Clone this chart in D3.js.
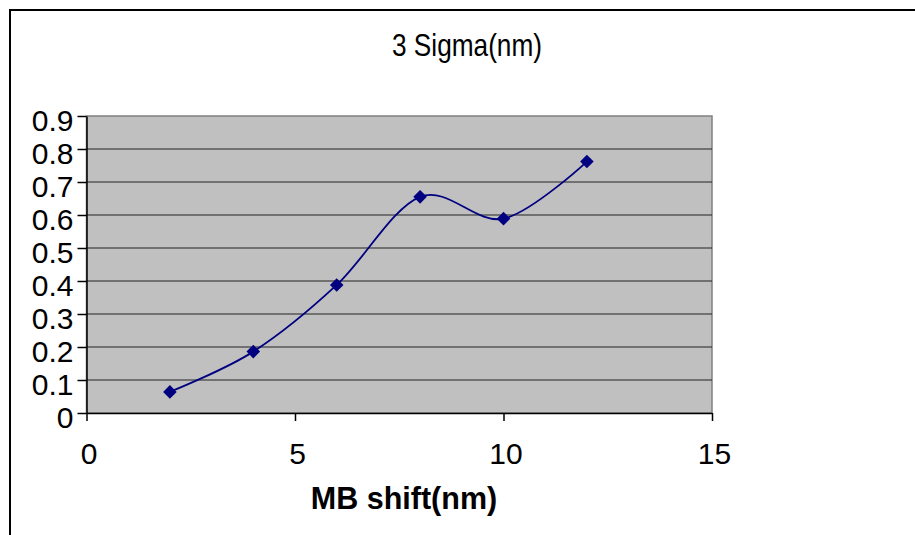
<!DOCTYPE html>
<html>
<head>
<meta charset="utf-8">
<script src="https://cdn.jsdelivr.net/npm/d3@7"></script>
<style>
  body { margin: 0; background: #fff; }
  svg { display: block; font-family: "Liberation Sans", Arial, sans-serif; }
</style>
</head>
<body>
<div id="vis"></div>
<script>
const FRAME_WIDTH = 915;
const FRAME_HEIGHT = 535;
const PLOT = {left: 86.5, right: 712, top: 116, bottom: 413};

// data
const mbShift = [2, 4, 6, 8, 10, 12];
const sigma3 = [0.064, 0.186, 0.388, 0.655, 0.589, 0.762];
const xTicks = [0, 5, 10, 15];
const yTicks = [0, 0.1, 0.2, 0.3, 0.4, 0.5, 0.6, 0.7, 0.8, 0.9];
const chartTitle = "3 Sigma(nm)";
const xTitle = "MB shift(nm)";

const data = mbShift.map((x, i) => ({x: x, y: sigma3[i]}));

const svg = d3.select("#vis")
  .append("svg")
    .attr("width", FRAME_WIDTH)
    .attr("height", FRAME_HEIGHT);

// outer chart border
svg.append("rect")
  .attr("x", 10).attr("y", 10)
  .attr("width", FRAME_WIDTH + 20)
  .attr("height", FRAME_HEIGHT + 20)
  .attr("fill", "#fff")
  .attr("stroke", "#000")
  .attr("stroke-width", 2);

const X_SCALE = d3.scaleLinear()
  .domain([0, 15])
  .range([PLOT.left, PLOT.right]);

const Y_SCALE = d3.scaleLinear()
  .domain([0, 0.9])
  .range([PLOT.bottom, PLOT.top]);

// plot area
svg.append("rect")
  .attr("x", PLOT.left).attr("y", PLOT.top)
  .attr("width", PLOT.right - PLOT.left)
  .attr("height", PLOT.bottom - PLOT.top)
  .attr("fill", "#c0c0c0")
  .attr("stroke", "#808080")
  .attr("stroke-width", 1.5);

// horizontal gridlines
svg.append("g")
  .selectAll("line")
  .data(yTicks.filter(t => t > 0 && t < 0.9))
  .enter()
  .append("line")
    .attr("x1", PLOT.left).attr("x2", PLOT.right)
    .attr("y1", d => Y_SCALE(d)).attr("y2", d => Y_SCALE(d))
    .attr("stroke", "#222")
    .attr("stroke-width", 1.2);

// y axis
const yAxis = svg.append("g")
  .attr("transform", "translate(" + PLOT.left + ",0)")
  .call(d3.axisLeft(Y_SCALE).tickValues(yTicks).tickSize(9).tickSizeOuter(0)
    .tickFormat(d => d === 0 ? "0" : d3.format(".1f")(d)));
yAxis.select(".domain").attr("stroke", "#000").attr("stroke-width", 1.5);
yAxis.selectAll(".tick line").attr("stroke", "#000").attr("stroke-width", 1.5);
yAxis.selectAll(".tick text")
  .attr("font-size", "30px")
  .attr("font-family", "Liberation Sans, Arial, sans-serif")
  .attr("fill", "#000")
  .attr("x", -13)
  .attr("dy", "0.47em");

// x axis
const xAxis = svg.append("g")
  .attr("transform", "translate(0," + PLOT.bottom + ")")
  .call(d3.axisBottom(X_SCALE).tickValues(xTicks).tickSize(8).tickSizeOuter(0));
xAxis.select(".domain").attr("stroke", "#000").attr("stroke-width", 1.5);
xAxis.selectAll(".tick line").attr("stroke", "#000").attr("stroke-width", 1.5);
xAxis.selectAll(".tick text")
  .attr("font-size", "30px")
  .attr("font-family", "Liberation Sans, Arial, sans-serif")
  .attr("fill", "#000")
  .attr("x", 2)
  .attr("y", 51)
  .attr("dy", 0);

// smoothed series line
const line = d3.line()
  .x(d => X_SCALE(d.x))
  .y(d => Y_SCALE(d.y))
  .curve(d3.curveCatmullRom.alpha(0));

svg.append("path")
  .datum(data)
  .attr("d", line)
  .attr("fill", "none")
  .attr("stroke", "#000080")
  .attr("stroke-width", 1.8);

// diamond markers
svg.append("g")
  .selectAll("path")
  .data(data)
  .enter()
  .append("path")
    .attr("transform", d => "translate(" + X_SCALE(d.x) + "," + Y_SCALE(d.y) + ") rotate(45)")
    .attr("d", "M-4.8,-4.8H4.8V4.8H-4.8Z")
    .attr("fill", "#000080");

// chart title
svg.append("text")
  .attr("x", 467).attr("y", 56)
  .attr("text-anchor", "middle")
  .attr("font-size", "32px")
  .attr("textLength", 150)
  .attr("lengthAdjust", "spacingAndGlyphs")
  .text(chartTitle);

// x axis title
svg.append("text")
  .attr("x", 404).attr("y", 509)
  .attr("text-anchor", "middle")
  .attr("font-size", "30.5px")
  .attr("font-weight", "bold")
  .text(xTitle);
</script>
</body>
</html>
